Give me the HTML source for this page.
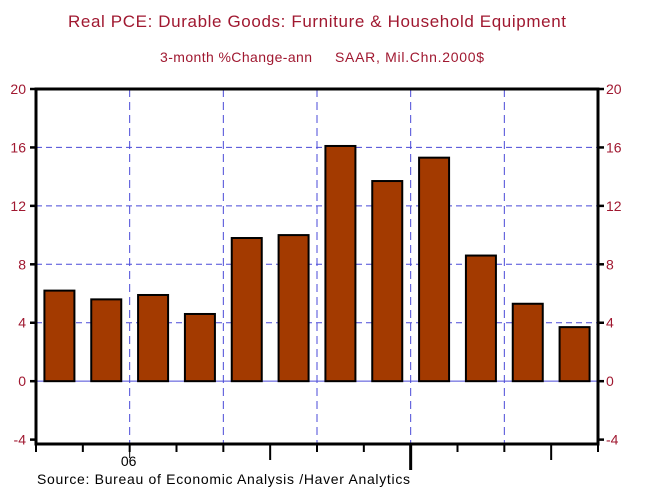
<!DOCTYPE html>
<html><head><meta charset="utf-8"><style>
body{margin:0;background:#fff;}
svg{display:block;font-family:"Liberation Sans",Arial,sans-serif;}
</style></head><body>
<svg id="chart" width="647" height="492">
<text x="68" y="27" font-size="17" fill="#a01830" textLength="498">Real PCE: Durable Goods: Furniture &amp; Household Equipment</text>
<text x="160" y="62" font-size="14" fill="#a01830" textLength="152">3-month %Change-ann</text>
<text x="335" y="62" font-size="14" fill="#a01830" textLength="149">SAAR, Mil.Chn.2000$</text>
<g id="grid"></g><g id="bars"></g><g id="axes"></g>
<text x="37" y="484" font-size="14" fill="#000" textLength="373">Source:  Bureau of Economic Analysis /Haver Analytics</text>
</svg>
<script>
const months=["Jan","Feb","Mar","Apr","May","Jun","Jul","Aug","Sep","Oct","Nov","Dec"];
const values=[6.2,5.6,5.9,4.6,9.8,10.0,16.1,13.7,15.3,8.6,5.3,3.7];
const yTicks=[-4,0,4,8,12,16,20];
const xLabel="06";
const L=36,R=598,T=89,B=444;
const yMin=-4.3,yMax=20;
function y(v){return T+(yMax-v)/(yMax-yMin)*(B-T);}
const step=(R-L)/months.length;
function x(i){return L+i*step;}
const NS="http://www.w3.org/2000/svg";
function mk(t,a,p){const e=document.createElementNS(NS,t);for(const k in a)e.setAttribute(k,a[k]);p.appendChild(e);return e;}
const grid=document.getElementById('grid'),bars=document.getElementById('bars'),axes=document.getElementById('axes');
yTicks.forEach(v=>{
 if(v!==0&&v!==-4&&v!==20){const g=mk('line',{x1:L,x2:R,y1:y(v),y2:y(v),stroke:'#4a4ad8','stroke-width':1,'stroke-dasharray':'6,4'},grid);
 
 }
 [[L,'end',L-10,L-6],[R,'start',R+8,R+6]].forEach(([ax,anc,tx,tk])=>{
  const tl=mk('line',{x1:ax,x2:tk,y1:y(v),y2:y(v),stroke:'#000','stroke-width':2.5},axes);
  
  
  const t=mk('text',{x:tx,y:y(v)+5,'text-anchor':anc,'font-size':14,fill:'#a01830'},axes);t.textContent=v;
  
  
 });
});
for(let i=2;i<12;i+=2){const g=mk('line',{x1:x(i),x2:x(i),y1:T,y2:B,stroke:'#4a4ad8','stroke-width':1,'stroke-dasharray':'8,5'},grid);
 
 }
const z=mk('line',{x1:L,x2:R,y1:y(0),y2:y(0),stroke:'#4a4ad8','stroke-width':1},grid);


values.forEach((v,i)=>{
 const cx=x(i)+step/2,w=30;
 const r=mk('rect',{x:cx-w/2,y:Math.min(y(v),y(0)),width:w,height:Math.abs(y(0)-y(v)),fill:'#a33a00',stroke:'#000','stroke-width':2},bars);
 
 
});
const f=mk('rect',{x:L,y:T,width:R-L,height:B-T,fill:'none',stroke:'#000','stroke-width':3},axes);


for(let i=0;i<=12;i++){
 let len=6;if(i===5||i===11)len=14;if(i===8)len=24;
 const t=mk('line',{x1:x(i),x2:x(i),y1:B,y2:B+len+2,stroke:'#000','stroke-width':i===8?3:2},axes);
 
 
}
const xl=mk('text',{x:x(2)-1,y:466,'text-anchor':'middle','font-size':14,fill:'#000'},axes);xl.textContent=xLabel;


const xl2=mk('line',{x1:x(2),x2:x(2),y1:B,y2:B+14,stroke:'#000','stroke-width':1},axes);


</script>
</body></html>
